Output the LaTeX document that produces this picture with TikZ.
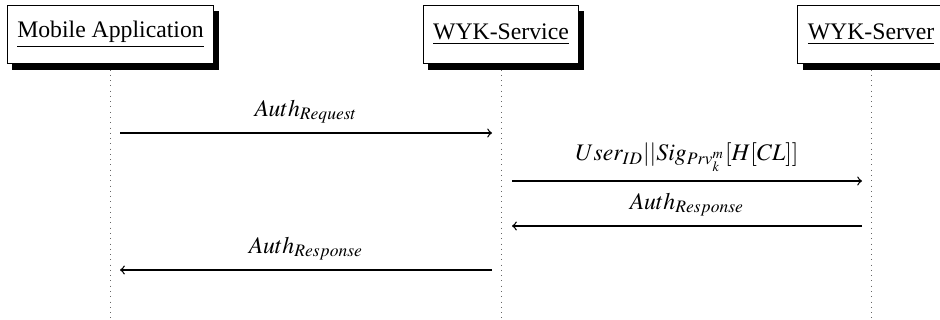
\documentclass[tikz,border=0pt]{standalone}
\usepackage{mathptmx}
\usepackage[no-math]{fontspec}
\setmainfont{Liberation Serif}
\usetikzlibrary{shadows,backgrounds,positioning}

\begin{document}
\begin{tikzpicture}[
  every node/.style={font=\fontsize{10.8}{13}\selectfont},
  inst/.style={draw,fill=white,thin,minimum height=0.94cm,inner xsep=0.16cm,
    drop shadow={shadow xshift=0.08cm,shadow yshift=-0.1cm,opacity=1,fill=black}},
  life/.style={dotted,gray!80!black},
  msg/.style={->,semithick},
  msglabel/.style={above,inner sep=4pt}
]
\useasboundingbox (0,0) rectangle (15.04,-5.12);
\node[inst] (mobile) at (1.768,-0.552) {\underline{Mobile Application}};
\node[inst] (service) at (8.016,-0.552) {\underline{WYK-Service}};
\node[inst] (server) at (13.936,-0.552) {\underline{WYK-Server}};
\coordinate (mobile end) at (1.768,-5.12);
\coordinate (service end) at (8.016,-5.12);
\coordinate (server end) at (13.936,-5.12);
\begin{scope}[on background layer]
\draw[life] (mobile) -- (mobile end);
\draw[life] (service) -- (service end);
\draw[life] (server) -- (server end);
\end{scope}
\coordinate (req1) at (1.92,-2.128);
\coordinate (req2) at (7.872,-2.128);
\coordinate (sig1) at (8.192,-2.896);
\coordinate (sig2) at (13.792,-2.896);
\coordinate (res1) at (13.792,-3.616);
\coordinate (res2) at (8.192,-3.616);
\coordinate (ans1) at (7.872,-4.32);
\coordinate (ans2) at (1.92,-4.32);
\draw[msg] (req1) -- node[msglabel] (reqlabel) {$Auth_{Request}$} (req2);
\draw[msg] (sig1) -- node[msglabel] (siglabel) {$User_{ID}||Sig_{Prv_k^m}[H[CL]]$} (sig2);
\draw[msg] (res1) -- node[msglabel] (reslabel) {$Auth_{Response}$} (res2);
\draw[msg] (ans1) -- node[msglabel] (anslabel) {$Auth_{Response}$} (ans2);
\end{tikzpicture}
\end{document}
